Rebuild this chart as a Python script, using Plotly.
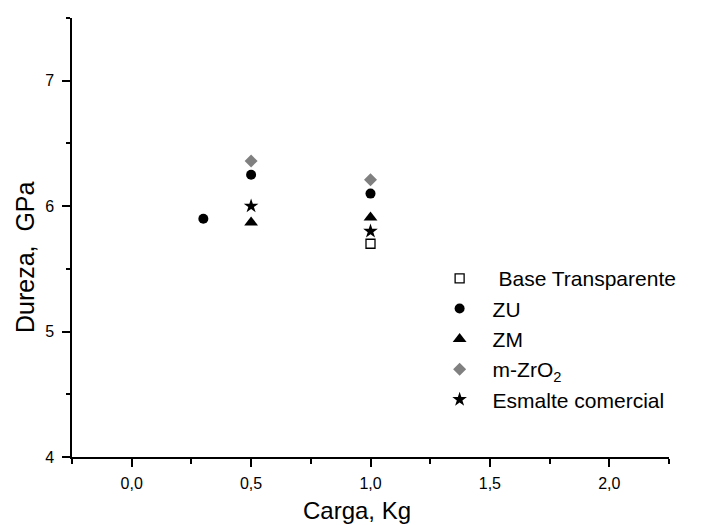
import plotly.graph_objects as go

# Data
base_x = [1.0]
base_y = [5.70]
zu_x = [0.3, 0.5, 1.0]
zu_y = [5.90, 6.25, 6.10]
zm_x = [0.5, 1.0]
zm_y = [5.87, 5.91]
mzro2_x = [0.5, 1.0]
mzro2_y = [6.36, 6.21]
esm_x = [0.5, 1.0]
esm_y = [6.00, 5.80]

x_tickvals = [0.0, 0.5, 1.0, 1.5, 2.0]
x_ticktext = ["0,0", "0,5", "1,0", "1,5", "2,0"]
y_tickvals = [4, 5, 6, 7]
y_ticktext = ["4", "5", "6", "7"]
x_title = "Carga, Kg"
y_title = "Dureza,  GPa"

FONT = "Arial, 'Liberation Sans', sans-serif"

fig = go.Figure()
fig.add_trace(go.Scatter(x=base_x, y=base_y, mode="markers", name=" Base Transparente",
                         marker=dict(symbol="square-open", size=9, color="black",
                                     line=dict(width=1.3, color="black"))))
fig.add_trace(go.Scatter(x=zu_x, y=zu_y, mode="markers", name="ZU",
                         marker=dict(symbol="circle", size=10, color="black")))
fig.add_trace(go.Scatter(x=zm_x, y=zm_y, mode="markers", name="ZM",
                         marker=dict(symbol="triangle-up", size=12, color="black")))
fig.add_trace(go.Scatter(x=mzro2_x, y=mzro2_y, mode="markers", name="m-ZrO<sub>2</sub>",
                         marker=dict(symbol="diamond", size=10, color="#808080")))
fig.add_trace(go.Scatter(x=esm_x, y=esm_y, mode="markers", name="Esmalte comercial",
                         marker=dict(symbol="star", size=11, color="black")))

fig.update_layout(
    width=702, height=525,
    margin=dict(l=72, r=33, t=18, b=68),
    paper_bgcolor="white", plot_bgcolor="white",
    font=dict(family=FONT, color="black"),
    showlegend=True,
    legend=dict(x=0.594, y=0.453, xanchor="left", yanchor="top",
                font=dict(size=21, family=FONT, color="black"),
                bgcolor="rgba(0,0,0,0)", itemwidth=56, tracegroupgap=0),
    xaxis=dict(
        range=[-0.25, 2.25], showgrid=False, zeroline=False,
        showline=True, linecolor="black", linewidth=1.5,
        tickmode="array", tickvals=x_tickvals, ticktext=x_ticktext,
        ticks="outside", ticklen=8, tickwidth=1.5, tickcolor="black",
        tickfont=dict(size=16, family=FONT), ticklabelstandoff=3,
        minor=dict(tickmode="linear", tick0=0, dtick=0.25, ticks="outside",
                   ticklen=5, tickwidth=1.5, tickcolor="black", showgrid=False),
    ),
    yaxis=dict(
        range=[4, 7.5], showgrid=False, zeroline=False,
        showline=True, linecolor="black", linewidth=1.5,
        tickmode="array", tickvals=y_tickvals, ticktext=y_ticktext,
        ticks="outside", ticklen=8, tickwidth=1.5, tickcolor="black",
        tickfont=dict(size=16, family=FONT), ticklabelstandoff=5,
        minor=dict(tickmode="linear", tick0=0, dtick=0.5, ticks="outside",
                   ticklen=4, tickwidth=1.5, tickcolor="black", showgrid=False),
    ),
    annotations=[
        dict(text=x_title, xref="paper", yref="paper", x=0.4774, y=-0.121,
             xanchor="center", yanchor="middle", showarrow=False,
             font=dict(size=24, family=FONT, color="black")),
        dict(text=y_title, xref="paper", yref="paper", x=-0.0787, y=0.4556,
             xanchor="center", yanchor="middle", showarrow=False, textangle=-90,
             font=dict(size=25, family=FONT, color="black")),
    ],
)

fig.write_html("out.html")
